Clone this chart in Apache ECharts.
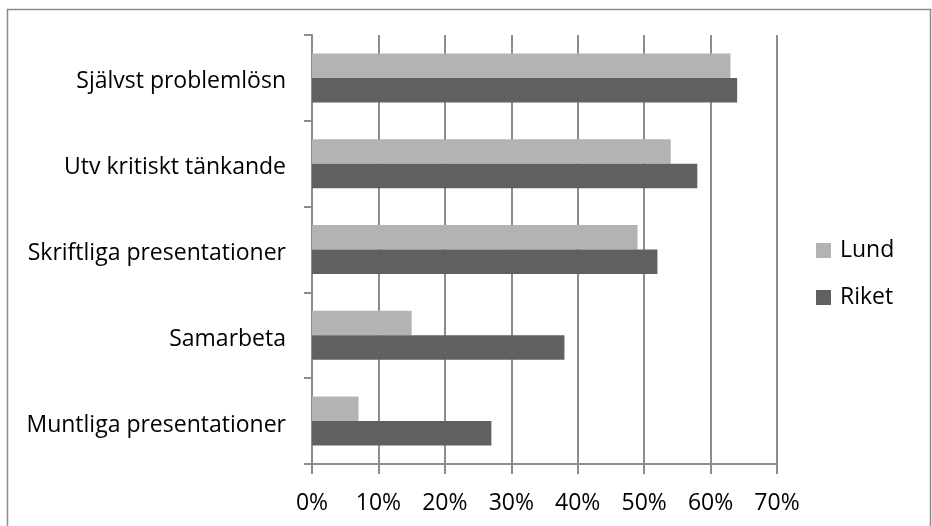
<!DOCTYPE html>
<html>
<head>
<meta charset="utf-8">
<script src="https://cdn.jsdelivr.net/npm/echarts@6/dist/echarts.min.js"></script>
<style>
html,body{margin:0;padding:0;background:#fff;}
#chart{width:932px;height:526px;}
</style>
</head>
<body>
<div id="chart"></div>
<script>
var categories = ['Muntliga presentationer', 'Samarbeta', 'Skriftliga presentationer', 'Utv kritiskt tänkande', 'Självst problemlösn'];
var lundValues = [7, 15, 49, 54, 63];
var riketValues = [27, 38, 52, 58, 64];
var xTicks = [0, 10, 20, 30, 40, 50, 60, 70];

var FONT = 'Open Sans';
var FS = 23;
var chart = echarts.init(document.getElementById('chart'), null, {renderer: 'canvas'});
chart.setOption({
  animation: false,
  backgroundColor: '#fff',
  graphic: [{
    type: 'rect', left: 5, top: 7, silent: true,
    shape: {x: 0, y: 0, width: 923, height: 540},
    style: {fill: 'none', stroke: '#8a8a8a', lineWidth: 1.5}
  }],
  grid: {left: 312, right: 155, top: 35, bottom: 62, containLabel: false},
  legend: {
    orient: 'vertical', left: 811, top: 234,
    data: ['Lund', 'Riket'],
    itemWidth: 15, itemHeight: 15, itemGap: 24,
    icon: 'rect',
    textStyle: {fontFamily: FONT, fontSize: FS, color: '#000', padding: [0, 0, 0, 4]}
  },
  xAxis: {
    type: 'value', min: xTicks[0], max: xTicks[xTicks.length - 1], interval: 10,
    axisLine: {show: true, lineStyle: {color: '#8c8c8c', width: 2}},
    axisTick: {show: true, length: 10, lineStyle: {color: '#8c8c8c', width: 2}},
    splitLine: {show: true, lineStyle: {color: '#8c8c8c', width: 2}},
    axisLabel: {formatter: '{value}%', fontFamily: FONT, fontSize: FS, color: '#000', margin: 28}
  },
  yAxis: {
    type: 'category', data: categories,
    axisLine: {show: true, lineStyle: {color: '#8c8c8c', width: 2}},
    axisTick: {show: true, length: 8, inside: false, lineStyle: {color: '#8c8c8c', width: 2}},
    splitLine: {show: false},
    axisLabel: {fontFamily: FONT, fontSize: FS, color: '#000', margin: 26, verticalAlign: 'top', lineHeight: 8}
  },
  series: [
    {name: 'Lund', type: 'bar', data: lundValues, barWidth: 24.5, barGap: '0%', itemStyle: {color: '#b3b3b3'}},
    {name: 'Riket', type: 'bar', data: riketValues, barWidth: 24.5, barGap: '0%', itemStyle: {color: '#606060'}}
  ]
});
</script>
</body>
</html>
